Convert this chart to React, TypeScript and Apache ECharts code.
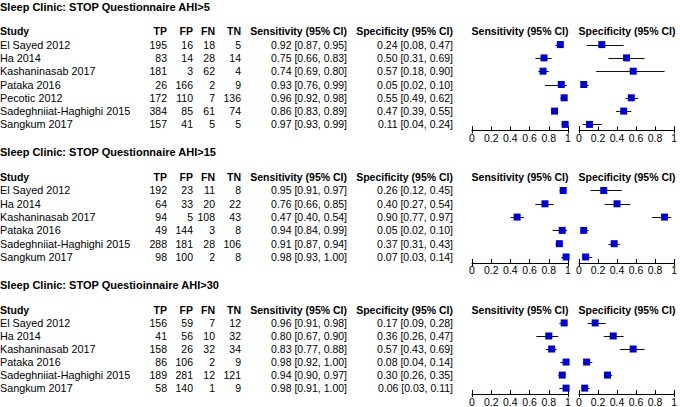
import React, { useEffect, useRef } from "react";
import * as echarts from "echarts";

// ---------- Data ----------
const titles = [
  "Sleep Clinic: STOP Questionnaire AHI>5",
  "Sleep Clinic: STOP Questionnaire AHI>15",
  "Sleep Clinic: STOP Questioinnaire AHI>30",
];

const studies1 = ["El Sayed 2012", "Ha 2014", "Kashaninasab 2017", "Pataka 2016", "Pecotic 2012", "Sadeghniiat-Haghighi 2015", "Sangkum 2017"];
const tp1 = [195, 83, 181, 26, 172, 384, 157];
const fp1 = [16, 14, 3, 166, 110, 85, 41];
const fn1 = [18, 28, 62, 2, 7, 61, 5];
const tn1 = [5, 14, 4, 9, 136, 74, 5];
const sens1 = [0.92, 0.75, 0.74, 0.93, 0.96, 0.86, 0.97];
const sensLo1 = [0.87, 0.66, 0.69, 0.76, 0.92, 0.83, 0.93];
const sensHi1 = [0.95, 0.83, 0.80, 0.99, 0.98, 0.89, 0.99];
const spec1 = [0.24, 0.50, 0.57, 0.05, 0.55, 0.47, 0.11];
const specLo1 = [0.08, 0.31, 0.18, 0.02, 0.49, 0.39, 0.04];
const specHi1 = [0.47, 0.69, 0.90, 0.10, 0.62, 0.55, 0.24];

const studies2 = ["El Sayed 2012", "Ha 2014", "Kashaninasab 2017", "Pataka 2016", "Sadeghniiat-Haghighi 2015", "Sangkum 2017"];
const tp2 = [192, 64, 94, 49, 288, 98];
const fp2 = [23, 33, 5, 144, 181, 100];
const fn2 = [11, 20, 108, 3, 28, 2];
const tn2 = [8, 22, 43, 8, 106, 8];
const sens2 = [0.95, 0.76, 0.47, 0.94, 0.91, 0.98];
const sensLo2 = [0.91, 0.66, 0.40, 0.84, 0.87, 0.93];
const sensHi2 = [0.97, 0.85, 0.54, 0.99, 0.94, 1.00];
const spec2 = [0.26, 0.40, 0.90, 0.05, 0.37, 0.07];
const specLo2 = [0.12, 0.27, 0.77, 0.02, 0.31, 0.03];
const specHi2 = [0.45, 0.54, 0.97, 0.10, 0.43, 0.14];

const studies3 = ["El Sayed 2012", "Ha 2014", "Kashaninasab 2017", "Pataka 2016", "Sadeghniiat-Haghighi 2015", "Sangkum 2017"];
const tp3 = [156, 41, 158, 86, 189, 58];
const fp3 = [59, 56, 26, 106, 281, 140];
const fn3 = [7, 10, 32, 2, 12, 1];
const tn3 = [12, 32, 34, 9, 121, 9];
const sens3 = [0.96, 0.80, 0.83, 0.98, 0.94, 0.98];
const sensLo3 = [0.91, 0.67, 0.77, 0.92, 0.90, 0.91];
const sensHi3 = [0.98, 0.90, 0.88, 1.00, 0.97, 1.00];
const spec3 = [0.17, 0.36, 0.57, 0.08, 0.30, 0.06];
const specLo3 = [0.09, 0.26, 0.43, 0.04, 0.26, 0.03];
const specHi3 = [0.28, 0.47, 0.69, 0.14, 0.35, 0.11];

const headers = ["Study", "TP", "FP", "FN", "TN", "Sensitivity (95% CI)", "Specificity (95% CI)"];
const plotHeaders = ["Sensitivity (95% CI)", "Specificity (95% CI)"];
const tickValues = { min: 0, max: 1, interval: 0.2 };
const axisEnds = [0, 1];

// ---------- Layout / style ----------
const FONT = '"Liberation Sans", Arial, sans-serif';
const FS = 10.5;
const FS_NAME = 10.8;
const FS_TITLE = 11;
const ROW_H = 13.3;
const SENS_LEFT = 472;
const SPEC_LEFT = 579;
const AXIS_W = 96;
const COL_X = { name: 0, tp: 167, fp: 193, fn: 215, tn: 241, sens: 347, spec: 453 };
const BLUE = "#0000c8";

type Sec = {
  title: string; studies: string[]; tp: number[]; fp: number[]; fn: number[]; tn: number[];
  sens: number[]; sensLo: number[]; sensHi: number[]; spec: number[]; specLo: number[]; specHi: number[];
};

const sections: Sec[] = [
  { title: titles[0], studies: studies1, tp: tp1, fp: fp1, fn: fn1, tn: tn1, sens: sens1, sensLo: sensLo1, sensHi: sensHi1, spec: spec1, specLo: specLo1, specHi: specHi1 },
  { title: titles[1], studies: studies2, tp: tp2, fp: fp2, fn: fn2, tn: tn2, sens: sens2, sensLo: sensLo2, sensHi: sensHi2, spec: spec2, specLo: specLo2, specHi: specHi2 },
  { title: titles[2], studies: studies3, tp: tp3, fp: fp3, fn: fn3, tn: tn3, sens: sens3, sensLo: sensLo3, sensHi: sensHi3, spec: spec3, specLo: specLo3, specHi: specHi3 },
];

const f2 = (v: number) => v.toFixed(2);

function buildOption() {
  const grid: any[] = [];
  const xAxis: any[] = [];
  const yAxis: any[] = [];
  const series: any[] = [];
  const graphic: any[] = [];

  let titleY = 6.5;
  sections.forEach((sec, s) => {
    const n = sec.studies.length;
    const headerY = titleY + 24.8;
    const row0 = headerY + ROW_H;
    const top = row0 - 0.5 * ROW_H;
    const height = (n - 0.05) * ROW_H;
    const axisY = top + height;
    const yMax = n - 0.55;

    graphic.push({
      type: "text", x: 0, y: titleY,
      style: { text: sec.title, font: `bold ${FS_TITLE}px ${FONT}`, fill: "#000", textAlign: "left", textVerticalAlign: "middle" },
    });
    const hx = [COL_X.name, COL_X.tp, COL_X.fp, COL_X.fn, COL_X.tn, COL_X.sens, COL_X.spec];
    headers.forEach((h, k) => {
      graphic.push({
        type: "text", x: hx[k], y: headerY,
        style: { text: h, font: `bold ${FS}px ${FONT}`, fill: "#000", textAlign: k === 0 ? "left" : "right", textVerticalAlign: "middle" },
      });
    });
    [SENS_LEFT, SPEC_LEFT].forEach((l, k) => {
      graphic.push({
        type: "text", x: l + AXIS_W / 2, y: headerY,
        style: { text: plotHeaders[k], font: `bold ${FS}px ${FONT}`, fill: "#000", textAlign: "center", textVerticalAlign: "middle" },
      });
    });

    [SENS_LEFT, SPEC_LEFT].forEach((left, k) => {
      const gi = s * 2 + k;
      grid.push({ left, top, width: AXIS_W, height });
      xAxis.push({
        gridIndex: gi, type: "value", min: tickValues.min, max: tickValues.max, interval: tickValues.interval,
        axisLine: { show: true, onZero: false, lineStyle: { color: "#000", width: 1 } },
        axisTick: { show: true, inside: true, length: 4, lineStyle: { color: "#000", width: 1 } },
        axisLabel: { show: true, color: "#000", fontSize: FS, fontFamily: FONT, margin: 2 },
        splitLine: { show: false },
      });
      yAxis.push({ gridIndex: gi, type: "value", inverse: true, min: -0.5, max: yMax, show: false });

      const est = k === 0 ? sec.sens : sec.spec;
      const lo = k === 0 ? sec.sensLo : sec.specLo;
      const hi = k === 0 ? sec.sensHi : sec.specHi;

      // end ticks that cross below the axis line
      series.push({
        type: "custom", xAxisIndex: gi, yAxisIndex: gi, silent: true, clip: false,
        data: axisEnds.map((v) => [v, yMax]),
        encode: { x: 0, y: 1 },
        renderItem: (params: any, api: any) => {
          const p = api.coord([api.value(0), api.value(1)]);
          const x = Math.round(p[0]) + 0.5;
          return {
            type: "line",
            shape: { x1: x, y1: p[1] - 4, x2: x, y2: p[1] + 3 },
            style: { stroke: "#000", lineWidth: 1 },
          };
        },
        z: 1,
      });

      series.push({
        type: "custom", xAxisIndex: gi, yAxisIndex: gi, silent: true, clip: false,
        data: est.map((_, i) => [lo[i], hi[i], i]),
        encode: { x: [0, 1], y: 2 },
        renderItem: (params: any, api: any) => {
          const a = api.coord([api.value(0), api.value(2)]);
          const b = api.coord([api.value(1), api.value(2)]);
          const y = Math.round(a[1]) + 0.5;
          return {
            type: "line",
            shape: { x1: a[0], y1: y, x2: b[0], y2: y },
            style: { stroke: "#111", lineWidth: 1 },
          };
        },
        z: 2,
      });
      series.push({
        type: "scatter", xAxisIndex: gi, yAxisIndex: gi, silent: true,
        symbol: "rect", symbolSize: 7,
        itemStyle: { color: BLUE, opacity: 1 },
        data: est.map((v, i) => [v, i]),
        z: 3,
      });

      if (k === 0) {
        // table text, positioned vertically through the sensitivity axis scale
        series.push({
          type: "custom", xAxisIndex: gi, yAxisIndex: gi, silent: true, clip: false,
          data: sec.studies.map((_, i) => [0, i]),
          encode: { x: 0, y: 1 },
          renderItem: (params: any, api: any) => {
            const i = api.value(1);
            const y = api.coord([0, i])[1];
            const font = `${FS}px ${FONT}`;
            const cells: [string, number, string, string][] = [
              [sec.studies[i], COL_X.name, "left", `${FS_NAME}px ${FONT}`],
              [String(sec.tp[i]), COL_X.tp, "right", font],
              [String(sec.fp[i]), COL_X.fp, "right", font],
              [String(sec.fn[i]), COL_X.fn, "right", font],
              [String(sec.tn[i]), COL_X.tn, "right", font],
              [`${f2(sec.sens[i])} [${f2(sec.sensLo[i])}, ${f2(sec.sensHi[i])}]`, COL_X.sens, "right", font],
              [`${f2(sec.spec[i])} [${f2(sec.specLo[i])}, ${f2(sec.specHi[i])}]`, COL_X.spec, "right", font],
            ];
            return {
              type: "group",
              children: cells.map(([t, x, al, fnt]) => ({
                type: "text", x, y,
                style: { text: t, font: fnt, fill: "#000", textAlign: al, textVerticalAlign: "middle" },
              })),
            };
          },
        });
      }
    });

    titleY = axisY + 22;
  });

  return { animation: false, grid, xAxis, yAxis, series, graphic };
}

export default function App() {
  const ref = useRef<HTMLDivElement>(null);
  useEffect(() => {
    if (!ref.current) return;
    const chart = echarts.init(ref.current, undefined, { renderer: "svg" });
    chart.setOption(buildOption() as any);
    return () => chart.dispose();
  }, []);
  return (
    <div
      ref={ref}
      style={{ position: "fixed", left: 0, top: 0, width: 680, height: 407, background: "#fff" }}
    />
  );
}
